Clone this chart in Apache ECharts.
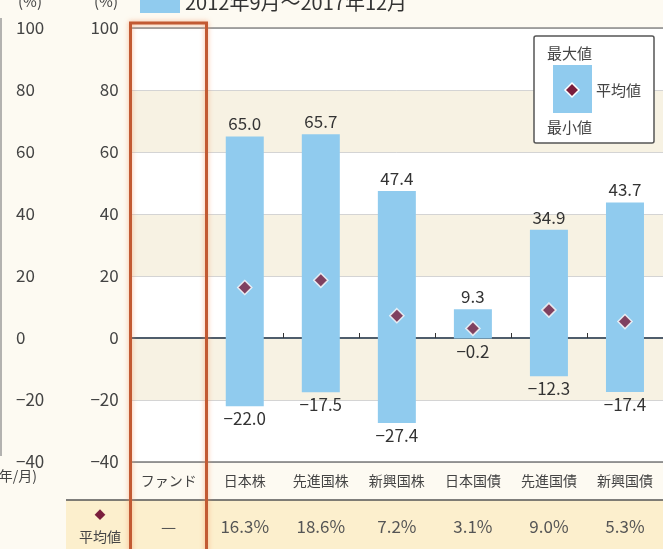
<!DOCTYPE html>
<html><head><meta charset="utf-8">
<script src="https://cdn.jsdelivr.net/npm/echarts@6/dist/echarts.min.js"></script>
<style>html,body{margin:0;padding:0;background:#fdfaf2;overflow:hidden}#c{width:663px;height:549px}</style>
</head><body><div id="c"></div>
<script>
const categories = ['ファンド', '日本株', '先進国株', '新興国株', '日本国債', '先進国債', '新興国債'];
const maxValues = [null, 65.0, 65.7, 47.4, 9.3, 34.9, 43.7];
const minValues = [null, -22.0, -17.5, -27.4, -0.2, -12.3, -17.4];
const avgValues = [null, 16.3, 18.6, 7.2, 3.1, 9.0, 5.3];
const yMin = -40, yMax = 100, yStep = 20;
const periodLabel = '2012年9月～2017年12月';
const avgRowLabel = '平均値';

const FONT = "'Noto Sans CJK JP', 'Noto Sans', sans-serif";
const BLUE = '#90cbee';
const DIAMOND = '#7a1e3c';
const minus = s => String(s).replace('-', '−');
const toData = arr => arr.map(v => v == null ? '-' : v);
const avgLabels = avgValues.map(v => v == null ? '—' : v.toFixed(1) + '%');

const chart = echarts.init(document.getElementById('c'), null, {renderer: 'canvas'});
const gridLeft = 130.7, gridTop = 28, gridBottom = 87;

const option = {
  backgroundColor: '#fdfaf2',
  textStyle: {fontFamily: FONT},
  animation: false,
  grid: {left: gridLeft, right: -4, top: gridTop, bottom: gridBottom},
  legend: {
    data: [periodLabel], left: 135, top: -14, itemWidth: 40, itemHeight: 22, icon: 'rect',
    textStyle: {fontSize: 20, color: '#333', fontFamily: FONT}, selectedMode: false
  },
  xAxis: [
    {type: 'category', data: categories, position: 'bottom',
     axisLine: {onZero: false, lineStyle: {color: '#7a7a7a', width: 1.5}},
     axisTick: {show: false},
     axisLabel: {margin: 12, fontSize: 14, color: '#444', fontFamily: FONT, interval: 0}},
    {type: 'category', data: categories, position: 'bottom',
     axisLine: {onZero: true, lineStyle: {color: '#4f5d6b', width: 2}},
     axisTick: {show: true, inside: true, length: 5, lineStyle: {color: '#333', width: 1}},
     axisLabel: {show: false}},
    {type: 'category', data: avgLabels, position: 'bottom', offset: 56, z: 10,
     axisLine: {show: false, onZero: false}, axisTick: {show: false},
     axisLabel: {margin: 0, fontSize: 17, color: '#555', fontFamily: FONT, interval: 0}},
    {type: 'category', data: categories, position: 'top',
     axisLine: {onZero: false, lineStyle: {color: '#8a8a8a', width: 1.5}},
     axisTick: {show: false}, axisLabel: {show: false}}
  ],
  yAxis: [
    {type: 'value', min: yMin, max: yMax, interval: yStep, position: 'left',
     axisLine: {show: false}, axisTick: {show: false},
     axisLabel: {margin: 12, fontSize: 17, color: '#444', fontFamily: FONT, formatter: v => minus(v)},
     splitLine: {show: true, lineStyle: {color: '#d4d4d4', width: 1}},
     splitArea: {show: true, areaStyle: {color: ['#ffffff', '#f7f2e3']}}},
    {type: 'value', min: yMin, max: yMax, interval: yStep, position: 'left', offset: gridLeft - 16,
     axisLine: {show: false}, axisTick: {show: false},
     axisLabel: {inside: true, margin: 0, fontSize: 17, color: '#444', fontFamily: FONT, formatter: v => minus(v)},
     splitLine: {show: false}, splitArea: {show: false}}
  ],
  series: [
    {name: periodLabel, type: 'bar', data: toData(maxValues), barWidth: 38, itemStyle: {color: BLUE},
     label: {show: true, position: 'top', distance: 4, fontSize: 17, color: '#333', fontFamily: FONT,
             formatter: p => Number(p.value).toFixed(1)}, z: 2},
    {name: periodLabel, type: 'bar', data: toData(minValues), barWidth: 38, barGap: '-100%', itemStyle: {color: BLUE},
     label: {show: true, position: 'bottom', distance: 4, fontSize: 17, color: '#333', fontFamily: FONT,
             formatter: p => minus(Number(p.value).toFixed(1))}, z: 2},
    {name: avgRowLabel, type: 'scatter', data: toData(avgValues), symbol: 'diamond', symbolSize: 14,
     itemStyle: {color: DIAMOND, borderColor: '#fff', borderWidth: 1.5}, z: 5}
  ],
  graphic: [
    {type: 'rect', z: 0, shape: {x: 66, y: 500, width: 600, height: 49}, style: {fill: '#fcefcd'}},
    {type: 'line', z: 2, shape: {x1: 66, y1: 500, x2: 663, y2: 500}, style: {stroke: '#555', lineWidth: 1.5}},
    {type: 'text', z: 3, x: 100, y: 515, style: {text: '◆', fill: DIAMOND, fontSize: 11, align: 'center', verticalAlign: 'middle', fontFamily: FONT}},
    {type: 'text', z: 3, x: 100, y: 537, style: {text: avgRowLabel, fill: '#444', fontSize: 14, align: 'center', verticalAlign: 'middle', fontFamily: FONT}},
    {type: 'rect', z: 30, shape: {x: 130.5, y: 23, width: 76, height: 540},
     style: {fill: 'none', stroke: '#c25a33', lineWidth: 3, shadowBlur: 5, shadowColor: 'rgba(245,150,100,0.7)'}},
    {type: 'text', z: 3, x: 30, y: 1, style: {text: '(%)', fill: '#444', fontSize: 15, align: 'center', verticalAlign: 'middle', fontFamily: FONT}},
    {type: 'text', z: 3, x: 106, y: 1, style: {text: '(%)', fill: '#444', fontSize: 15, align: 'center', verticalAlign: 'middle', fontFamily: FONT}},
    {type: 'text', z: 3, x: 37, y: 476, style: {text: '(年/月)', fill: '#444', fontSize: 14, align: 'right', verticalAlign: 'middle', fontFamily: FONT}},
    {type: 'line', z: 3, shape: {x1: 1, y1: 18, x2: 1, y2: 456}, style: {stroke: '#9a9a9a', lineWidth: 1.5}},
    {type: 'rect', z: 40, shape: {x: 534, y: 36, width: 120, height: 107, r: 2}, style: {fill: '#ffffff', stroke: '#555', lineWidth: 1.5}},
    {type: 'rect', z: 41, shape: {x: 553, y: 65, width: 39, height: 48}, style: {fill: BLUE}},
    {type: 'polygon', z: 42, shape: {points: [[572, 83], [579, 90], [572, 97], [565, 90]]}, style: {fill: DIAMOND, stroke: '#fff', lineWidth: 1.5}},
    {type: 'text', z: 42, x: 547, y: 53, style: {text: '最大値', fill: '#444', fontSize: 15, verticalAlign: 'middle', fontFamily: FONT}},
    {type: 'text', z: 42, x: 596, y: 90, style: {text: '平均値', fill: '#444', fontSize: 15, verticalAlign: 'middle', fontFamily: FONT}},
    {type: 'text', z: 42, x: 547, y: 127, style: {text: '最小値', fill: '#444', fontSize: 15, verticalAlign: 'middle', fontFamily: FONT}}
  ]
};
chart.setOption(option);
</script>
</body></html>
